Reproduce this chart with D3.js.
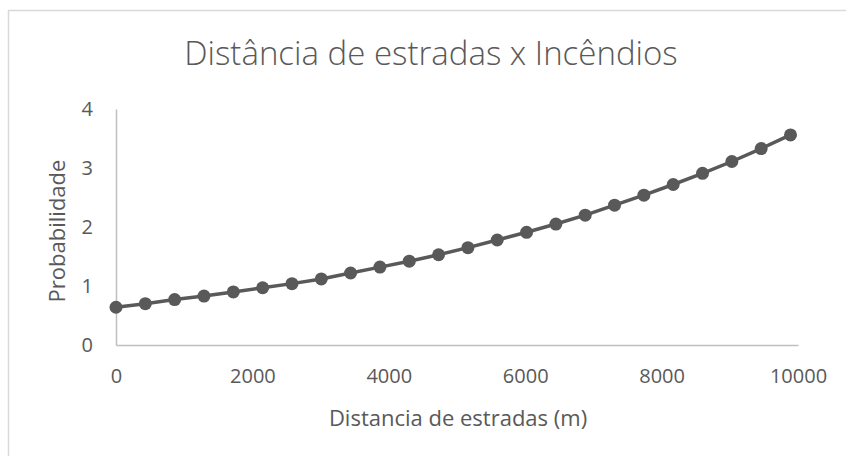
<!DOCTYPE html>
<html>
<head>
<meta charset="utf-8">
<script src="https://cdn.jsdelivr.net/npm/d3@7"></script>
<style>
  body { margin: 0; background: #fff; }
  text { font-family: "Open Sans", sans-serif; fill: #595959; }
</style>
</head>
<body>
<div id="chart"></div>
<script>
// data
var distancias = [0, 430, 860, 1290, 1720, 2150, 2580, 3010, 3440, 3870, 4300, 4730,
                  5160, 5590, 6020, 6450, 6880, 7310, 7740, 8170, 8600, 9030, 9460, 9890];
var probabilidade = [0.64, 0.70, 0.77, 0.83, 0.90, 0.97, 1.04, 1.12, 1.22, 1.32, 1.42, 1.53,
                     1.65, 1.78, 1.91, 2.05, 2.20, 2.37, 2.54, 2.72, 2.91, 3.11, 3.33, 3.56];
var xTicks = [0, 2000, 4000, 6000, 8000, 10000];
var yTicks = [0, 1, 2, 3, 4];

function init(){
    var w = 846;
    var h = 456;
    var left = 116, right = 798, top = 109, bottom = 345;

    var dataset = distancias.map(function(d, i) {
        return { x: d, y: probabilidade[i] };
    });

    var svg = d3.select("#chart")
                .append("svg")
                .attr("width", w)
                .attr("height", h);

    // chart border
    svg.append("rect")
        .attr("x", 8.5)
        .attr("y", 10.5)
        .attr("width", 900)
        .attr("height", 500)
        .attr("fill", "none")
        .attr("stroke", "#d9d9d9")
        .attr("stroke-width", 1.5);

    var xScale = d3.scaleLinear()
                .domain([0, 10000])
                .range([left, right]);

    var yScale = d3.scaleLinear()
                .domain([0, 4])
                .range([bottom, top]);

    var xAxis = d3.axisBottom(xScale).tickValues(xTicks).tickFormat(d3.format("d"))
                  .tickSize(0).tickPadding(24);
    var yAxis = d3.axisLeft(yScale).tickValues(yTicks).tickFormat(d3.format("d"))
                  .tickSize(0).tickPadding(23);

    var gx = svg.append("g")
        .attr("transform", `translate(0,${bottom})`)
        .call(xAxis);
    var gy = svg.append("g")
        .attr("transform", `translate(${left},0)`)
        .call(yAxis);

    [gx, gy].forEach(function(g) {
        g.select(".domain").attr("stroke", "#bfbfbf").attr("stroke-width", 1.5);
        g.selectAll("text")
            .attr("font-size", 20)
            .attr("fill", "#595959")
            .style("font-family", "'Open Sans', sans-serif");
    });

    var line = d3.line()
                .x(function(d) { return xScale(d.x); })
                .y(function(d) { return yScale(d.y); });

    svg.append("path")
        .datum(dataset)
        .attr("d", line)
        .attr("fill", "none")
        .attr("stroke", "#595959")
        .attr("stroke-width", 3.5);

    svg.selectAll("circle")
        .data(dataset)
        .enter()
        .append("circle")
        .attr("cx", function(d) { return xScale(d.x); })
        .attr("cy", function(d) { return yScale(d.y); })
        .attr("r", 6.5)
        .attr("fill", "#595959");

    svg.append("text")
        .attr("x", 431)
        .attr("y", 65)
        .attr("text-anchor", "middle")
        .attr("font-size", 33)
        .attr("font-weight", 300)
        .text("Distância de estradas x Incêndios");

    svg.append("text")
        .attr("x", 458)
        .attr("y", 426)
        .attr("text-anchor", "middle")
        .attr("font-size", 22)
        .text("Distancia de estradas (m)");

    svg.append("text")
        .attr("transform", "translate(65,231) rotate(-90)")
        .attr("text-anchor", "middle")
        .attr("font-size", 22)
        .text("Probabilidade");
}
window.onload = init;
</script>
</body>
</html>
